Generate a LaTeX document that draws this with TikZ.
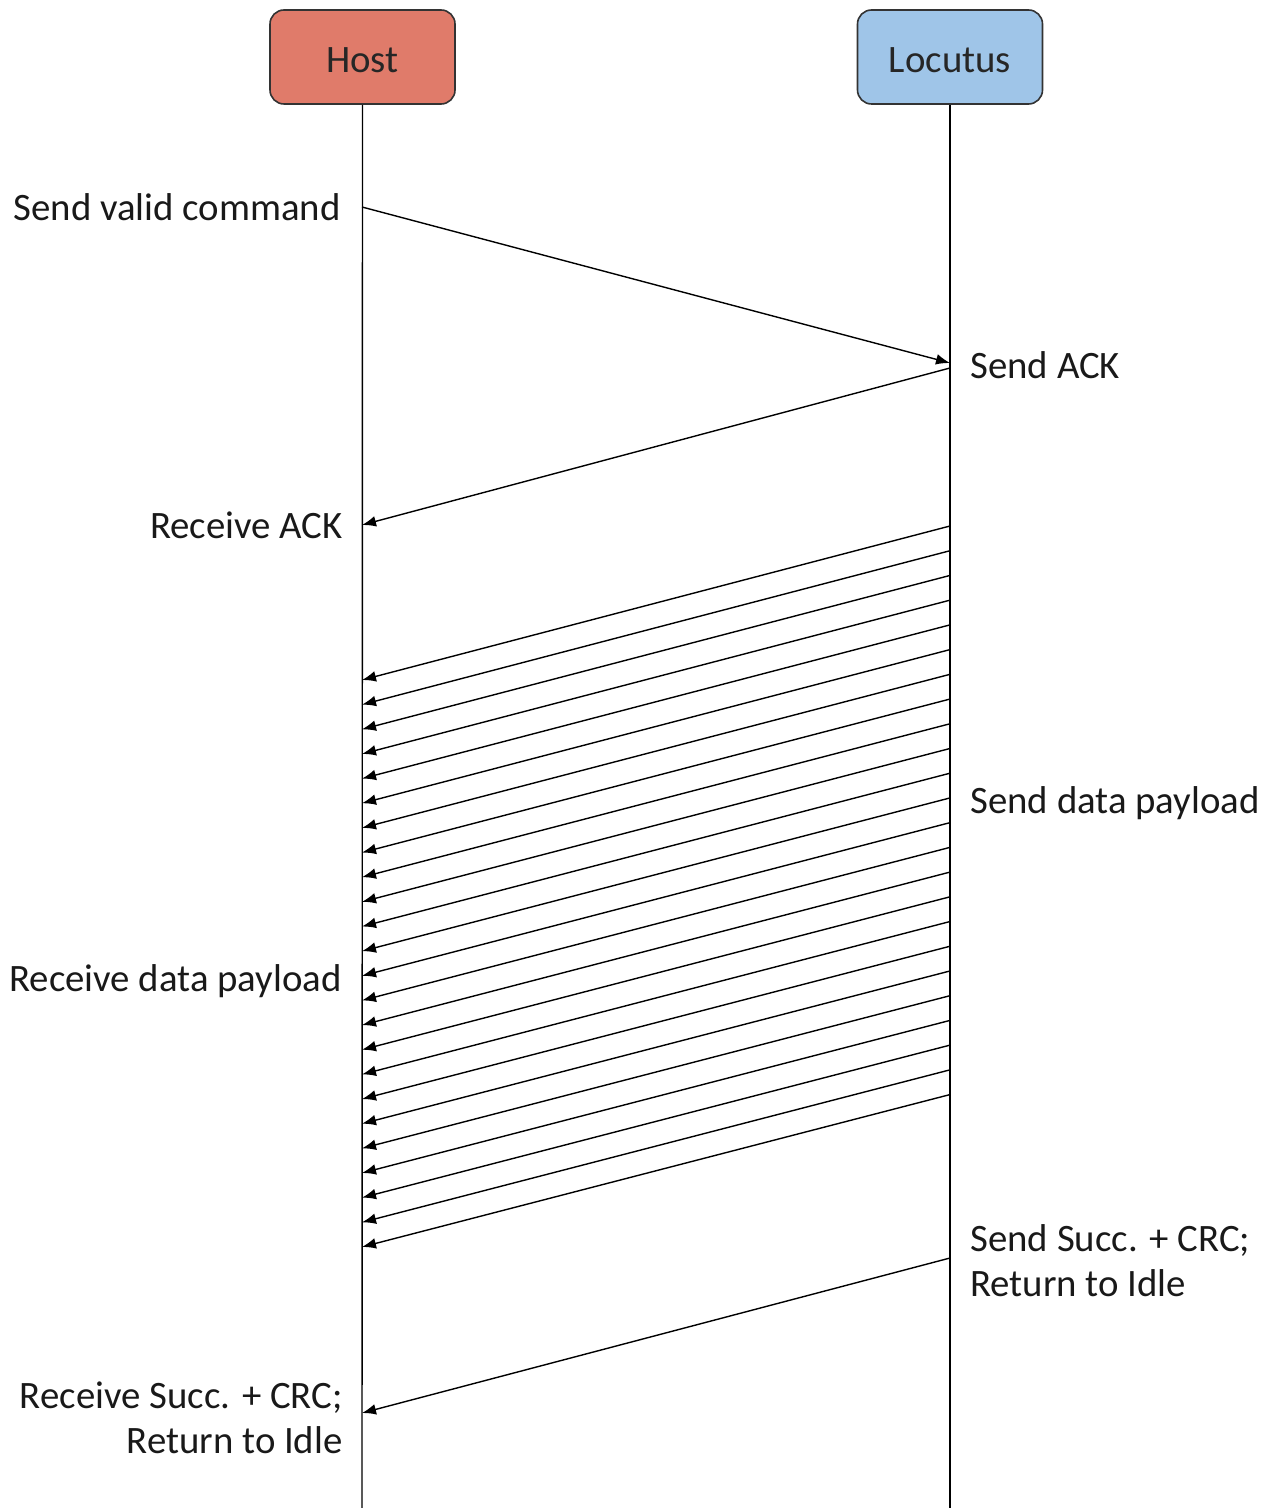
\documentclass[tikz,border=0pt]{standalone}
\usepackage{fontspec}
\setmainfont{Carlito}
\usetikzlibrary{arrows.meta}
\definecolor{hostfill}{HTML}{E07B6A}
\definecolor{locfill}{HTML}{9FC5E8}
\begin{document}
\begin{tikzpicture}[x=0.5pt,y=-0.5pt,
  actor/.style={draw=black!80,line width=0.8pt,rounded corners=7pt,minimum width=92.5pt,minimum height=47pt,font=\fontsize{19.4}{22.5}\selectfont,text=black!85,inner sep=0pt,text height=15.5pt,text depth=0pt},
  life/.style={line width=0.7pt},
  msg/.style={line width=0.7pt,-{Latex[length=7pt,width=5.4pt]}},
  lbl/.style={font=\fontsize{19.4}{22.5}\selectfont,inner sep=0pt,text=black!90}]
\useasboundingbox (0,0) rectangle (1273,1508);
% actors
\node[actor,fill=hostfill] (host) at (362.5,57) {Host};
\node[actor,fill=locfill] (loc) at (950,57) {Locutus};
\coordinate (hend) at (362,1508);
\coordinate (lend) at (950,1508);
\draw[life] (host.south) -- (hend);
\draw[life] (loc.south) -- (lend);
% message 1
\coordinate (h1) at (362,207);
\coordinate (l1) at (950,363);
\draw[msg] (h1) -- (l1);
% message 2
\coordinate (l2) at (950,368);
\coordinate (h2) at (362,525);
\draw[msg] (l2) -- (h2);
% data payload
\foreach \k in {0,...,23}{
  \coordinate (ls\k) at (950,{526+24.72*\k});
  \coordinate (he\k) at (362,{680+24.65*\k});
  \draw[msg] (ls\k) -- (he\k);
}
% final
\coordinate (l4) at (950,1258);
\coordinate (h4) at (362,1413);
\draw[msg] (l4) -- (h4);
% labels
\node[lbl,anchor=east] (t1) at (341,207) {Send valid command};
\node[lbl,anchor=west] (t2) at (970,365) {Send ACK};
\node[lbl,anchor=east] (t3) at (343,525) {Receive ACK};
\node[lbl,anchor=west] (t4) at (970,803) {Send data payload};
\node[lbl,anchor=east] (t5) at (342,981) {Receive data payload};
\node[lbl,anchor=west,align=left] (t6) at (970,1261) {Send Succ. + CRC;\\Return to Idle};
\node[lbl,anchor=east,align=right] (t7) at (343,1418) {Receive Succ. + CRC;\\Return to Idle};
\end{tikzpicture}
\end{document}
